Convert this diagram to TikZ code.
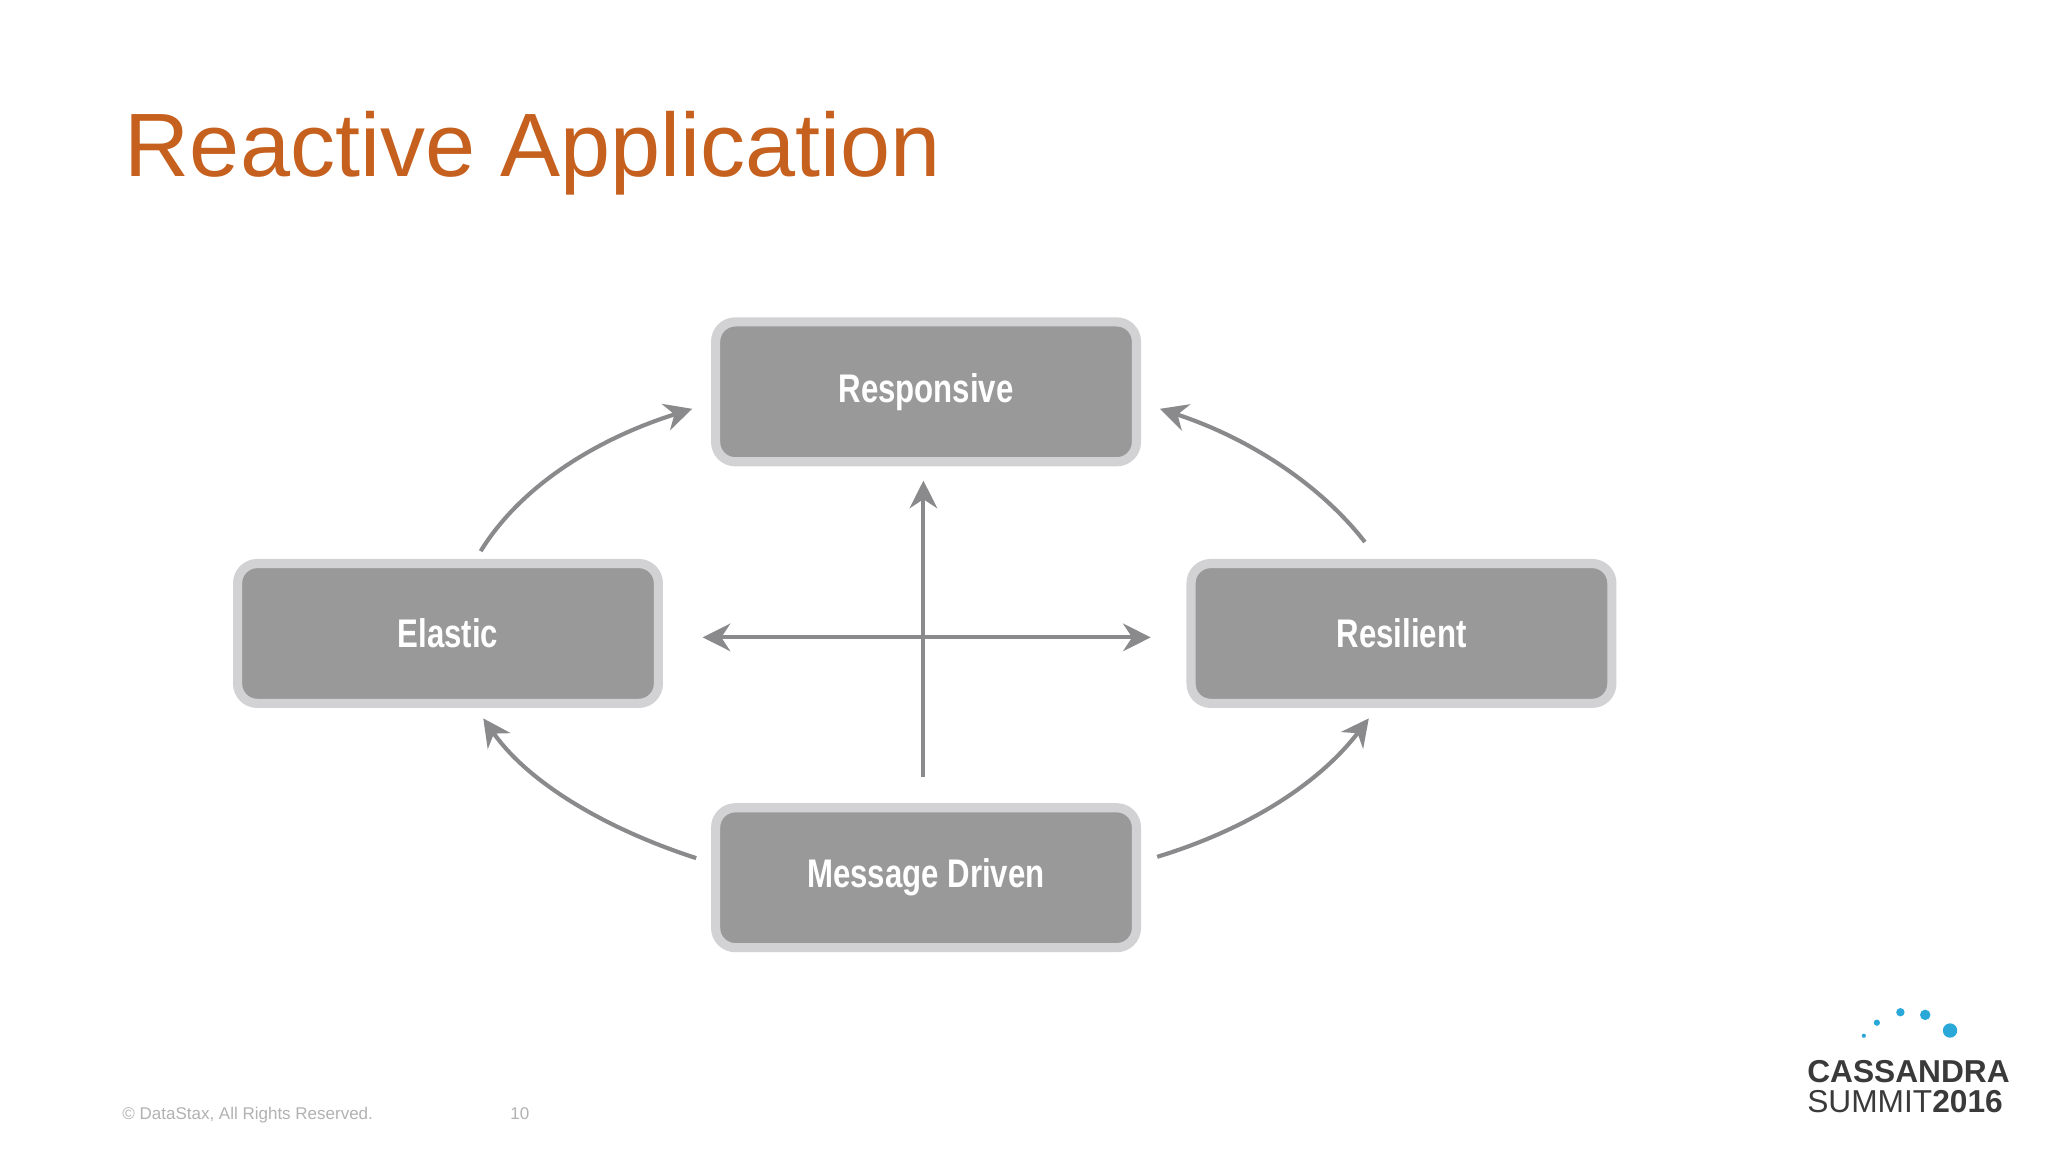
\documentclass[tikz,border=0pt]{standalone}
\usepackage{fontspec}
\setmainfont{Liberation Sans}
\newfontfamily\narrowfont[FakeStretch=0.78]{Liberation Sans}
\usetikzlibrary{arrows.meta}
\definecolor{boxfill}{HTML}{999999}
\definecolor{boxrim}{HTML}{D2D2D4}
\definecolor{arr}{HTML}{8A8A8C}
\definecolor{titleor}{HTML}{C5601E}
\definecolor{logoblue}{HTML}{2AA8D8}
\definecolor{logotxt}{HTML}{3A3A3A}
\begin{document}
\begin{tikzpicture}[x=0.01cm,y=-0.01cm,
  box/.style={draw=boxrim,line width=0.07cm,fill=boxfill,rounded corners=0.15cm,
    minimum width=3.22cm,minimum height=1.07cm,text=white,font=\narrowfont\fontsize{8.7}{10}\selectfont\bfseries},
  arrline/.style={draw=arr,line width=0.9pt,-{Stealth[length=6pt,width=6pt]}}]
\useasboundingbox (0,0) rectangle (1568,882);
\fill[white] (0,0) rectangle (1568,882);
\node[anchor=base west,text=titleor,font=\fontsize{19.6}{23}\selectfont,inner sep=0] (title) at (95,135) {Reactive Application};
\node[box] (resp) at (709,300) {Responsive};
\node[box] (elas) at (343,485) {Elastic};
\node[box] (resi) at (1073,485) {Resilient};
\node[box] (msg) at (709,672) {Message Driven};
\coordinate (a1) at (368,422); \coordinate (b1) at (530,313);
\coordinate (a2) at (1045,415); \coordinate (b2) at (888,313);
\coordinate (a3) at (533,657); \coordinate (b3) at (370,550);
\coordinate (a4) at (886,656); \coordinate (b4) at (1048,550);
\coordinate (v1) at (707,595); \coordinate (v2) at (707,368);
\coordinate (h1) at (538,488); \coordinate (h2) at (881,488);
\draw[arrline] (a1) .. controls (400,370) and (460,335) .. (b1);
\draw[arrline] (a2) .. controls (1010,370) and (955,335) .. (b2);
\draw[arrline] (a3) .. controls (465,635) and (405,600) .. (b3);
\draw[arrline] (a4) .. controls (955,635) and (1010,600) .. (b4);
\draw[arrline] (v1) -- (v2);
\draw[arrline,{Stealth[length=6pt,width=6pt]}-{Stealth[length=6pt,width=6pt]}] (h1) -- (h2);
\node[anchor=base west,text=gray!60,font=\fontsize{3.7}{4}\selectfont,inner sep=0] (copy) at (93,857) {© DataStax, All Rights Reserved.};
\node[anchor=base west,text=gray!60,font=\fontsize{3.7}{4}\selectfont,inner sep=0] (pg) at (390,857) {10};
\foreach \x/\y/\r [count=\i] in {1427/793/1.6,1437/783/2.4,1455/775/3.2,1474/777/4,1493/789/5.5}
  \fill[logoblue] (\x,\y) circle (\r);
\node[anchor=base west,text=logotxt,font=\fontsize{6.9}{8}\selectfont\bfseries,inner sep=0] (cas) at (1383,829) {CASSANDRA};
\node[anchor=base west,text=logotxt,font=\fontsize{6.9}{8}\selectfont,inner sep=0] (sum) at (1383,852) {SUMMIT\textbf{2016}};
\end{tikzpicture}
\end{document}
